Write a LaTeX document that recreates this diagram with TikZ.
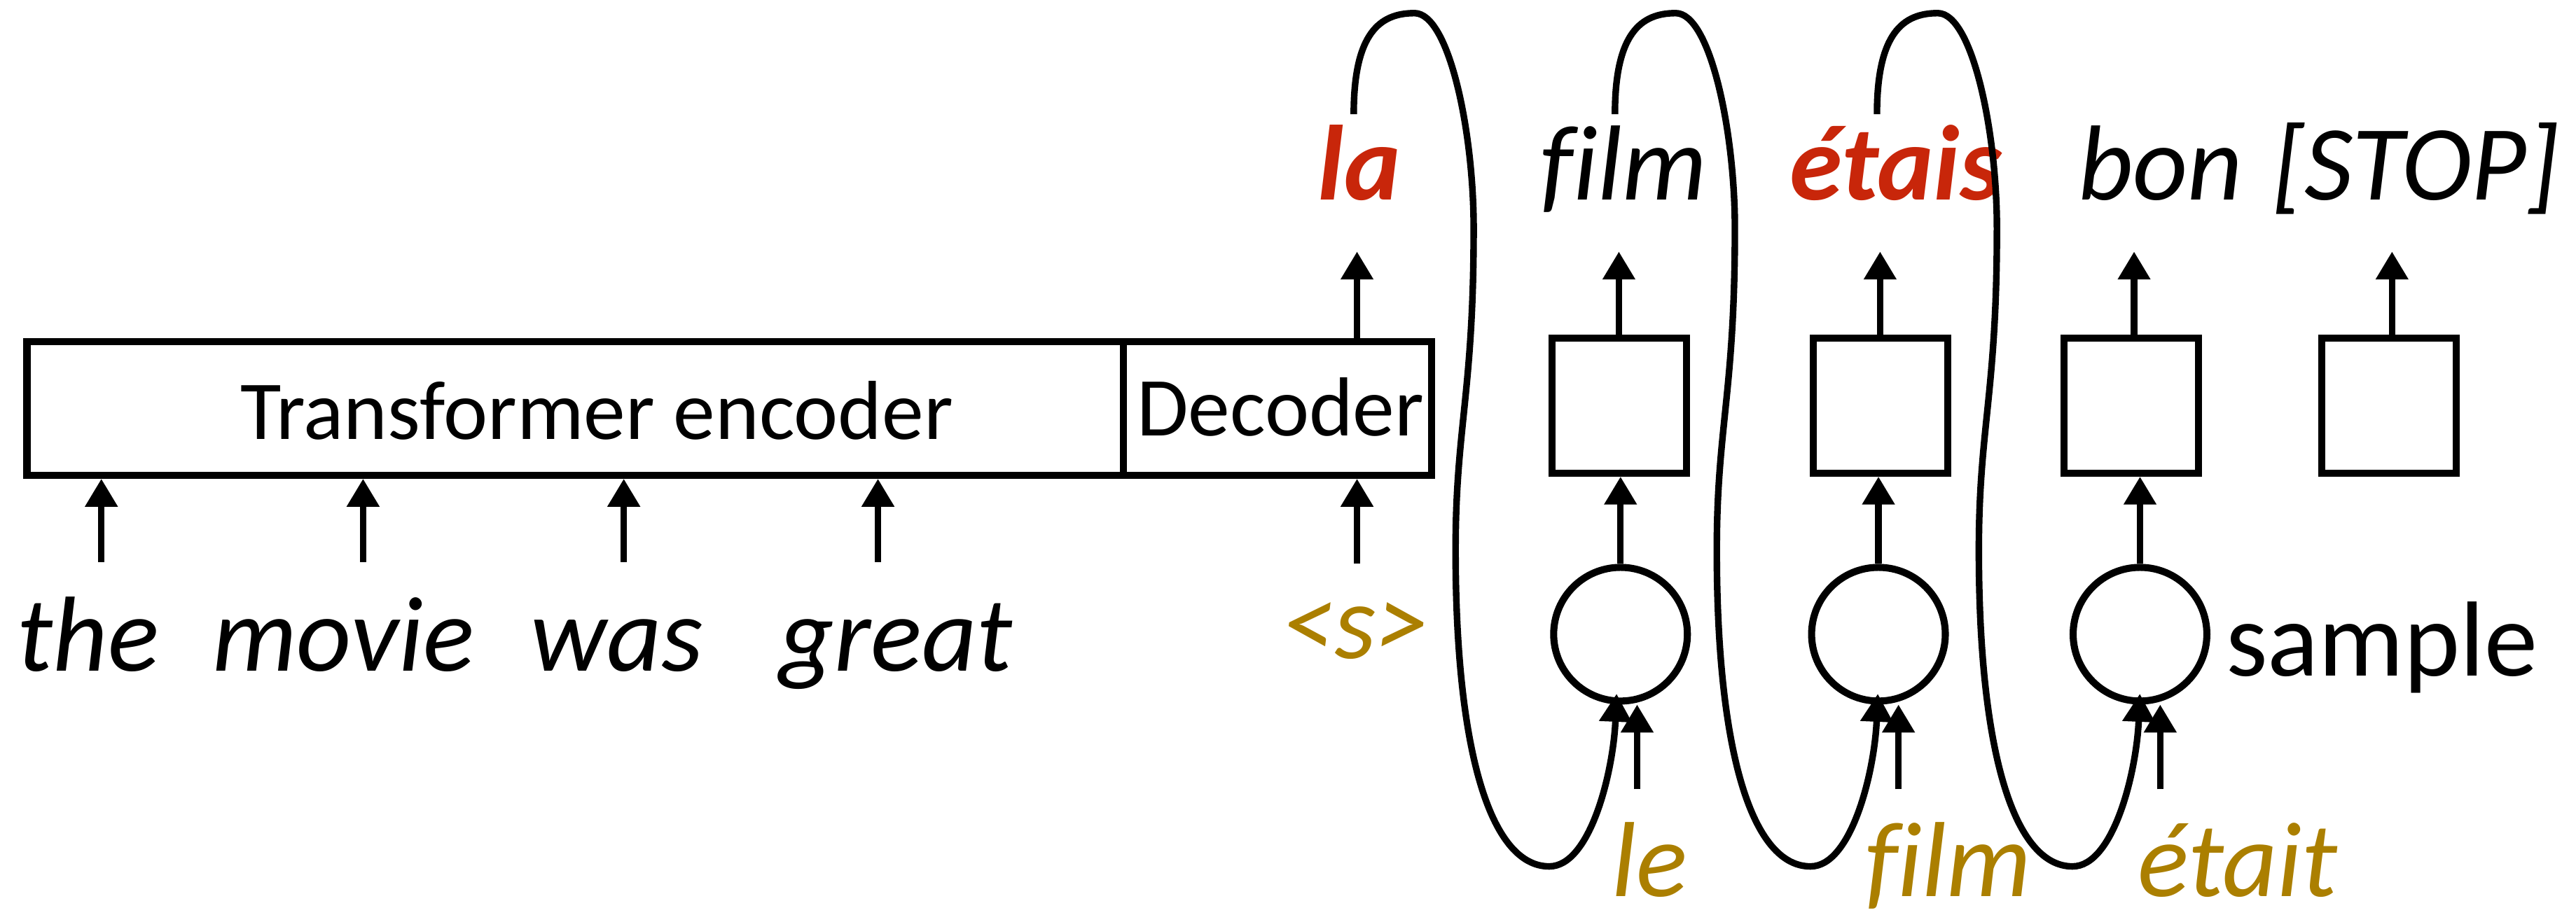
\documentclass[tikz,border=0pt]{standalone}
\usepackage{fontspec}
\setmainfont{Carlito}[Ligatures=NoCommon]
\usetikzlibrary{arrows.meta}
\definecolor{wred}{HTML}{C8260A}
\definecolor{wgold}{HTML}{AB7F00}
\begin{document}
\begin{tikzpicture}[x=1pt,y=-1pt,
  blk/.style={draw, line width=4.3pt, inner sep=0pt},
  cellbox/.style={blk, minimum width=81.8pt, minimum height=82pt},
  circ/.style={draw, circle, line width=4.3pt, minimum size=81.4pt, inner sep=0pt},
  arr/.style={line width=4pt, -{Triangle[width=19pt,length=17pt]}},
  loopline/.style={line width=4pt, -{Triangle[width=19pt,length=17pt]}},
  lab/.style={anchor=base, inner sep=0pt, font=\fontsize{51}{60}\selectfont},
  word/.style={anchor=base, inner sep=0pt, font=\fontsize{65}{78}\selectfont\itshape},
  redword/.style={word, font=\fontsize{65}{78}\selectfont\bfseries\itshape, text=wred},
  goldword/.style={word, text=wgold, text depth=0pt},
  plainword/.style={anchor=base, inner sep=0pt, font=\fontsize{65}{78}\selectfont}
]
\useasboundingbox (0,0) rectangle (1568,557);

% encoder / decoder
\node[blk, minimum width=667.6pt, minimum height=81.5pt] (enc) at (350.2,248.65) {};
\node[blk, minimum width=187.4pt, minimum height=81.5pt] (dec) at (777.7,248.65) {};
\node[lab] (enclab) at (363.3,267.7) {Transformer encoder};
\node[lab] (declab) at (779.4,265.2) {Decoder};

% decoder cells
\node[cellbox] (b1) at (985.6,247.1) {};
\node[cellbox] (b2) at (1144.7,247.1) {};
\node[cellbox] (b3) at (1297.2,247.1) {};
\node[cellbox] (b4) at (1454,247.1) {};

% sampling circles
\node[circ] (c1) at (986.4,386.2) {};
\node[circ] (c2) at (1143.4,386.2) {};
\node[circ] (c3) at (1302.6,386.2) {};

% source words
\node[word] (w1) at (53.7,408.5) {the};
\node[word] (w2) at (209,408.5) {movie};
\node[word] (w3) at (375.4,408.5) {was};
\node[word] (w4) at (545.3,408.5) {great};
\node[goldword] (s0) at (825,401) {<s>};

% output words
\node[redword] (la) at (827.4,121.8) {la};
\node[word] (film) at (988.4,121.8) {film};
\node[redword] (etais) at (1154,121.8) {étais};
\node[word] (bon) at (1315,121.9) {bon};
\node[word] (stop) at (1470.5,121.9) {[STOP]};
\node[plainword] (sample) at (1449.8,411.8) {sample};

% gold inputs
\node[goldword] (le) at (1004,545.7) {le};
\node[goldword] (film2) at (1186,545.7) {film};
\node[goldword] (etait) at (1362,545.7) {était};

% coordinates
\coordinate (i1) at (61.7,342.3);
\coordinate (i2) at (221,342.3);
\coordinate (i3) at (379.7,342.3);
\coordinate (i4) at (534.4,342.3);
\coordinate (i0) at (826,343);
\coordinate (u0) at (826,153.2);
\coordinate (u1) at (985.4,153.2);
\coordinate (u2) at (1144.4,153.2);
\coordinate (u3) at (1299,153.2);
\coordinate (u4) at (1456,153.2);
\coordinate (s1) at (996.5,480.6);
\coordinate (s2) at (1155.6,480.6);
\coordinate (s3) at (1314.9,480.6);

% arrows
\foreach \i in {i1,i2,i3,i4} \draw[arr] (\i) -- (\i |- enc.south);
\draw[arr] (i0) -- (i0 |- dec.south);
\draw[arr] (u0 |- dec.north) -- (u0);
\draw[arr] (u1 |- b1.north) -- (u1);
\draw[arr] (u2 |- b2.north) -- (u2);
\draw[arr] (u3 |- b3.north) -- (u3);
\draw[arr] (u4 |- b4.north) -- (u4);
\draw[arr] (c1.north) -- (c1.north |- b1.south);
\draw[arr] (c2.north) -- (c2.north |- b2.south);
\draw[arr] (c3.north) -- (c3.north |- b3.south);
\draw[arr] (s1) -- (s1 |- c1.south);
\draw[arr] (s2) -- (s2 |- c2.south);
\draw[arr] (s3) -- (s3 |- c3.south);

% feedback loops
\foreach \dx in {0,159,318.5}
  \draw[loopline, shift={(\dx,0)}] (824,69.5) .. controls (824,20) and (840,8) .. (861,8)
     .. controls (882,8) and (897,80) .. (897,139)
     .. controls (897,240) and (886,260) .. (886,335)
     .. controls (886,460) and (908,527.6) .. (943,527.6)
     .. controls (968,527.6) and (982,470) .. (984,422.5);
\end{tikzpicture}
\end{document}
